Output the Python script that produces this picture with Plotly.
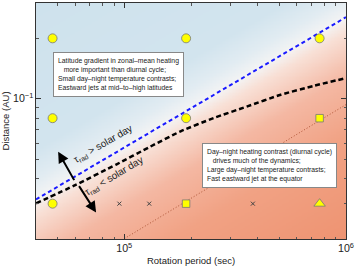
import numpy as np
import plotly.graph_objects as go

DAY = 86400.0
# rotation periods (sec) and orbital distances (AU) of the simulations
CIRCLE_P = [0.55 * DAY, 0.55 * DAY, 0.55 * DAY, 2.2 * DAY, 2.2 * DAY, 8.8 * DAY]
CIRCLE_A = [0.2, 0.08, 0.03, 0.2, 0.08, 0.2]
SQUARE_P = [2.2 * DAY, 8.8 * DAY]
SQUARE_A = [0.03, 0.08]
TRI_P = [8.8 * DAY]
TRI_A = [0.03]
CROSS_P = [1.1 * DAY, 1.5 * DAY, 4.4 * DAY]
CROSS_A = [0.03, 0.03, 0.03]

# boundary curves
BLUE_P = [4.0e4, 1.0e6]
BLUE_A = [0.0315, 0.255]
BLACK_P = [4.0e4, 6.07e4, 9.2e4, 1.31e5, 1.795e5, 2.535e5, 3.59e5, 5.08e5, 7.19e5, 1.0e6]
BLACK_A = [0.0301, 0.0373, 0.0470, 0.0577, 0.0688, 0.0802, 0.0916, 0.1047, 0.1161, 0.1267]
DOT_P = [9.0e4, 1.0e6]
DOT_A = [0.0187, 0.0935]

XR = [np.log10(4.0e4), 6.0]
YR = [np.log10(0.02), np.log10(0.3)]

# background shading: signed log-distance from the blue boundary
lx = np.linspace(XR[0] - 0.02, XR[1] + 0.02, 220)
ly = np.linspace(YR[0] - 0.02, YR[1] + 0.02, 170)
LX, LY = np.meshgrid(lx, ly)
slope = (np.log10(BLUE_A[1]) - np.log10(BLUE_A[0])) / (np.log10(BLUE_P[1]) - np.log10(BLUE_P[0]))
lb = np.log10(BLUE_A[0]) + slope * (LX - np.log10(BLUE_P[0]))
Z = LY - lb

zmin, zmax = -1.15, 1.0
def nz(v):
    return (v - zmin) / (zmax - zmin)
cs = [
    [nz(-1.15), "rgb(238,146,112)"],
    [nz(-0.6), "rgb(241,162,132)"],
    [nz(-0.3), "rgb(244,184,163)"],
    [nz(-0.08), "rgb(248,224,214)"],
    [nz(0.0), "rgb(244,244,244)"],
    [nz(0.1), "rgb(226,236,242)"],
    [nz(0.25), "rgb(210,228,238)"],
    [nz(1.0), "rgb(206,226,237)"],
]

fig = go.Figure()
fig.add_trace(go.Heatmap(x=10 ** lx, y=10 ** ly, z=Z, zmin=zmin, zmax=zmax,
                         colorscale=cs, showscale=False, hoverinfo="skip"))

fig.add_trace(go.Scatter(x=DOT_P, y=DOT_A, mode="lines",
                         line=dict(color="rgb(175,85,55)", width=1, dash="1px,2px"),
                         showlegend=False))
fig.add_trace(go.Scatter(x=BLUE_P, y=BLUE_A, mode="lines",
                         line=dict(color="#1a1aff", width=2, dash="4px,3px"),
                         showlegend=False))
fig.add_trace(go.Scatter(x=BLACK_P, y=BLACK_A, mode="lines",
                         line=dict(color="black", width=2.5, dash="5px,3px", shape="spline", smoothing=0.6),
                         showlegend=False))

mk_line = dict(color="#777777", width=0.8)
fig.add_trace(go.Scatter(x=CIRCLE_P, y=CIRCLE_A, mode="markers",
                         marker=dict(symbol="circle", size=9, color="#ffff00", line=mk_line),
                         showlegend=False))
fig.add_trace(go.Scatter(x=SQUARE_P, y=SQUARE_A, mode="markers",
                         marker=dict(symbol="square", size=7.5, color="#ffff00", line=mk_line),
                         showlegend=False))
fig.add_trace(go.Scatter(x=TRI_P, y=TRI_A, mode="markers",
                         marker=dict(symbol="triangle-up", size=10, color="#ffff00", line=mk_line),
                         showlegend=False))
fig.add_trace(go.Scatter(x=CROSS_P, y=CROSS_A, mode="markers",
                         marker=dict(symbol="x-thin", size=4, color="#444444",
                                     line=dict(color="#444444", width=1)),
                         showlegend=False))

FONT = "Liberation Sans, Arial, sans-serif"
box_font = dict(family=FONT, size=6.8, color="#222222")
fig.add_annotation(x=4.679, y=-0.766, xref="x", yref="y", xanchor="left", yanchor="top",
                   text="Latitude gradient in zonal–mean heating<br>"
                        "   more important than diurnal cycle;<br>"
                        "Small day–night temperature contrasts;<br>"
                        "Eastward jets at mid–to–high latitudes",
                   align="left", showarrow=False, font=box_font,
                   bgcolor="white", bordercolor="#888888", borderwidth=1, borderpad=4)
fig.add_annotation(x=5.349, y=-1.219, xref="x", yref="y", xanchor="left", yanchor="top",
                   text="Day–night heating contrast (diurnal cycle)<br>"
                        "   drives much of the dynamics;<br>"
                        "Large day–night temperature contrasts;<br>"
                        "Fast eastward jet at the equator",
                   align="left", showarrow=False, font=box_font,
                   bgcolor="white", bordercolor="#888888", borderwidth=1, borderpad=4)

lab_font = dict(family=FONT, size=10, color="#222222")
fig.add_annotation(x=4.905, y=-1.225, xref="x", yref="y", showarrow=False, textangle=-30,
                   text="τ<sub>rad</sub> > solar day", font=lab_font)
fig.add_annotation(x=4.955, y=-1.385, xref="x", yref="y", showarrow=False, textangle=-31,
                   text="τ<sub>rad</sub> < solar day", font=lab_font)

# arrows
fig.add_annotation(x=4.702, y=-1.264, ax=4.778, ay=-1.413, xref="x", yref="y",
                   axref="x", ayref="y", text="", showarrow=True, arrowhead=2,
                   arrowsize=1.1, arrowwidth=2, arrowcolor="black")
fig.add_annotation(x=4.873, y=-1.567, ax=4.792, ay=-1.428, xref="x", yref="y",
                   axref="x", ayref="y", text="", showarrow=True, arrowhead=2,
                   arrowsize=1.1, arrowwidth=2, arrowcolor="black")

axis_common = dict(type="log", showgrid=False, zeroline=False, showline=True,
                   linecolor="#333333", linewidth=1, mirror="ticks", ticks="inside",
                   ticklen=5, tickcolor="#333333", dtick=1, exponentformat="power",
                   tickfont=dict(family=FONT, size=8.5, color="#222222"),
                   minor=dict(ticks="inside", ticklen=2.5, tickcolor="#555555", dtick="D1"))

fig.update_xaxes(range=XR, title=dict(text="Rotation period (sec)", standoff=4,
                                      font=dict(family=FONT, size=9.5, color="#222222")),
                 **axis_common)
fig.update_yaxes(range=YR, title=dict(text="Distance (AU)", standoff=2,
                                      font=dict(family=FONT, size=9.5, color="#222222")),
                 **axis_common)

fig.update_layout(width=356, height=268, margin=dict(l=36, r=10, t=3, b=29),
                  paper_bgcolor="white", plot_bgcolor="white", showlegend=False)
fig.write_html("out.html", config={"displayModeBar": False},
               post_script="document.body.style.margin='0';document.body.style.padding='0';")
